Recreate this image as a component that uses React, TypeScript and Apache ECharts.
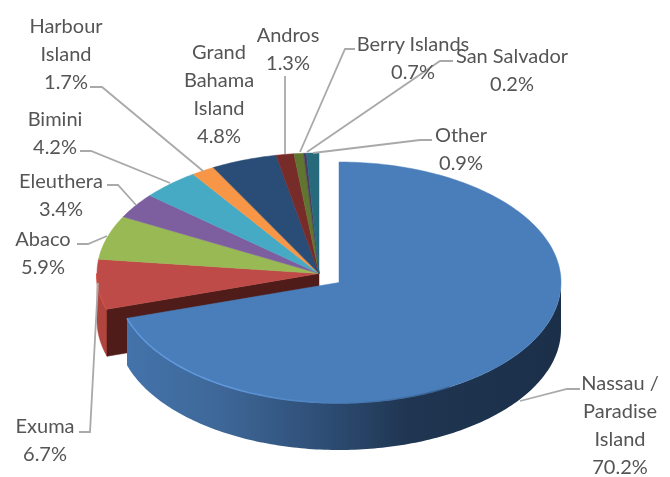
import React, { useEffect, useRef } from "react";
import * as echarts from "echarts";

const categories = [
  "Nassau /\nParadise\nIsland", "Exuma", "Abaco", "Eleuthera", "Bimini",
  "Harbour\nIsland", "Grand\nBahama\nIsland", "Andros", "Berry Islands", "San Salvador", "Other",
];
const shares = [70.2, 6.7, 5.9, 3.4, 4.2, 1.7, 4.8, 1.3, 0.7, 0.2, 0.9];
const sliceColors = [
  "#4a7ebb", "#be4b48", "#98b954", "#7d5fa0", "#46aac5",
  "#f79646", "#2a4d77", "#772c2a", "#5f7530", "#4d3b62", "#276a7c",
];

// Layout of the label block centres and their leader lines (pixels), by slice.
const labelCentres: number[][] = [
  [620, 424], [45, 439], [43, 252], [61, 194], [55, 132],
  [66, 53], [219, 93], [288, 48], [413, 57], [512, 69], [461, 148],
];
const leaders: (number[][] | null)[] = [
  [[580, 389], [567, 389], [520, 401]],
  [[79, 432], [90, 432], [98, 283]],
  [[77, 244], [88, 244], [107, 236]],
  [[107, 185], [118, 185], [136, 205]],
  [[80, 151], [91, 151], [170, 183]],
  [[90, 87], [102, 87], [203, 171]],
  null,
  [[285, 76], [285, 154]],
  [[355, 49], [345, 49], [300, 152]],
  [[453, 61], [440, 61], [307, 152]],
  [[432, 140], [420, 140], [313, 153]],
];

const RX = 222;
const RY = 120.5;
const DEPTH = 47;
const HERO = { x: 339, y: 282.5 };
const REST = { x: 319, y: 273.5 };
const FONT = "Lato, Carlito, 'Open Sans', sans-serif";

const total = shares.reduce((a, b) => a + b, 0);
const angleOf = (i: number) =>
  (shares.slice(0, i).reduce((a, b) => a + b, 0) / total) * 2 * Math.PI;

const rimPoint = (c: { x: number; y: number }, t: number, dy = 0) => [
  c.x + RX * Math.sin(t),
  c.y - RY * Math.cos(t) + dy,
];
const arc = (c: { x: number; y: number }, a: number, b: number, dy = 0) => {
  const n = Math.max(2, Math.ceil(((b - a) * 180) / Math.PI));
  const pts: number[][] = [];
  for (let i = 0; i <= n; i++) pts.push(rimPoint(c, a + ((b - a) * i) / n, dy));
  return pts;
};

function renderSlice(params: any, api: any) {
  const i = params.dataIndex;
  const value = api.value(0);
  const a0 = angleOf(i);
  const a1 = a0 + (value / total) * 2 * Math.PI;
  const c = i === 0 ? HERO : REST;
  const children: any[] = [];
  const poly = (points: number[][], fill: any, z2: number, stroke?: any) => ({
    type: "polygon",
    z2,
    shape: { points },
    style: { fill, stroke: stroke ?? (typeof fill === "string" ? fill : "none"), lineWidth: 0.5 },
  });

  if (i === 0) {
    const side = [...arc(c, Math.PI / 2, a1), ...arc(c, Math.PI / 2, a1, DEPTH).reverse()];
    children.push(
      poly(
        side,
        new echarts.graphic.LinearGradient(1, 0, 0, 0, [
          { offset: 0, color: "#1b2f49" },
          { offset: 0.35, color: "#1f3551" },
          { offset: 0.55, color: "#2e4e76" },
          { offset: 0.78, color: "#3e6797" },
          { offset: 1, color: "#4373ab" },
        ]),
        40,
      ),
    );
  }
  if (i === 1) {
    const leftmost = (3 * Math.PI) / 2;
    const side = [...arc(c, a0, leftmost), ...arc(c, a0, leftmost, DEPTH).reverse()];
    children.push(poly(side, "#b0443f", 10));
    const p = rimPoint(c, a0);
    children.push(
      poly([[c.x, c.y], p, [p[0], p[1] + DEPTH], [c.x, c.y + DEPTH]], "#4f1c19", 11),
    );
    children.push({
      type: "polyline",
      z2: 12,
      shape: { points: arc(c, a0, leftmost) },
      style: { fill: "none", stroke: "#dc5a52", lineWidth: 2 },
    });
  }

  children.push(
    poly([[c.x, c.y], ...arc(c, a0, a1)], api.visual("color"), i === 0 ? 50 : 20 + i),
  );

  if (i === 0) {
    children.push({
      type: "polyline",
      z2: 55,
      shape: { points: arc(c, (150 * Math.PI) / 180, a1) },
      style: {
        fill: "none",
        lineWidth: 1.5,
        stroke: new echarts.graphic.LinearGradient(1, 0, 0, 0, [
          { offset: 0, color: "#37608f" },
          { offset: 0.35, color: "#4a7ebb" },
          { offset: 0.7, color: "#5f98dc" },
          { offset: 1, color: "#5f98dc" },
        ]),
      },
    });
  }

  const leader = leaders[i];
  if (leader) {
    children.push({
      type: "polyline",
      z2: 60,
      shape: { points: leader },
      style: { fill: "none", stroke: "#a9a9a9", lineWidth: 1.8 },
    });
  }
  children.push({
    type: "text",
    z2: 70,
    x: labelCentres[i][0],
    y: labelCentres[i][1],
    style: {
      text: `${categories[i]}\n${value.toFixed(1)}%`,
      fontFamily: FONT,
      fontSize: 20,
      lineHeight: 28.2,
      fill: "#555555",
      align: "center",
      verticalAlign: "middle",
    },
  });
  return { type: "group", children };
}

export default function App() {
  const ref = useRef<HTMLDivElement>(null);
  useEffect(() => {
    const chart = echarts.init(ref.current!, undefined, { renderer: "svg" });
    chart.setOption({
      animation: false,
      backgroundColor: "#ffffff",
      color: sliceColors,
      series: [
        {
          type: "custom",
          coordinateSystem: "none",
          colorBy: "data",
          silent: true,
          clip: false,
          renderItem: renderSlice,
          data: shares.map((v, i) => ({
            value: [v],
            name: categories[i],
            itemStyle: { color: sliceColors[i] },
          })),
        },
      ],
    });
    return () => chart.dispose();
  }, []);
  return (
    <div
      ref={ref}
      style={{ position: "fixed", left: 0, top: 0, width: 670, height: 477, filter: "blur(0.4px)" }}
    />
  );
}
